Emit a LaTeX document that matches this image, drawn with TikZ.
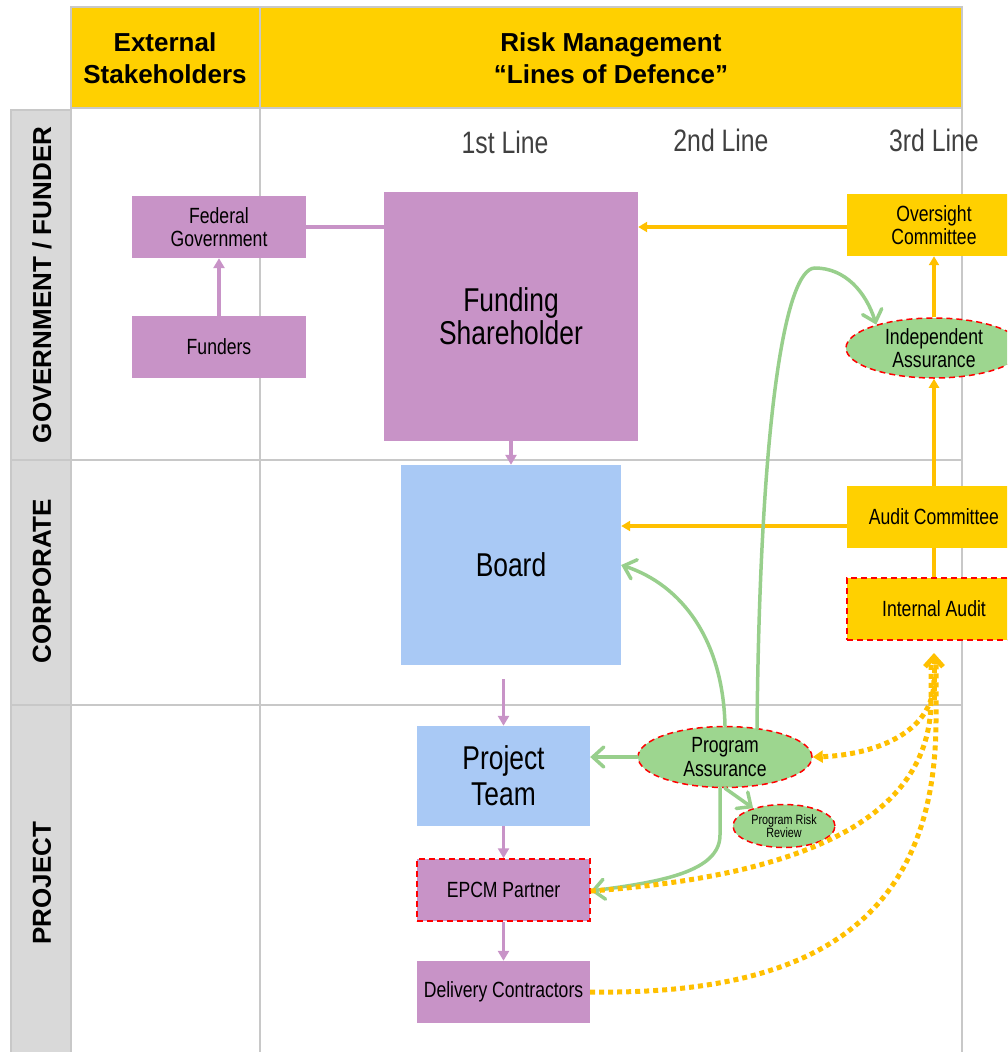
\documentclass[tikz,border=0pt]{standalone}
\usepackage{fontspec}
\setmainfont{Liberation Sans}
\newfontfamily\narrowfont{Liberation Sans}[FakeStretch=0.8]
\usetikzlibrary{arrows.meta,shapes.geometric}
\definecolor{hdryellow}{HTML}{FFD000}
\definecolor{arryellow}{HTML}{FFC000}
\definecolor{purp}{HTML}{C893C7}
\definecolor{bluebox}{HTML}{A9C9F5}
\definecolor{greenfill}{HTML}{9DD68F}
\definecolor{greenline}{HTML}{98CF8C}
\definecolor{gridgrey}{HTML}{C8C8C8}
\definecolor{colgrey}{HTML}{D9D9D9}
\definecolor{labelgrey}{HTML}{404040}
\begin{document}
\begin{tikzpicture}[x=1pt,y=-1pt,
  box/.style={rectangle, inner sep=0pt, align=center, text=black, font=\narrowfont\fontsize{22}{23.5}\selectfont},
  purpbox/.style={box, fill=purp},
  bluebx/.style={box, fill=bluebox},
  yelbox/.style={box, fill=hdryellow},
  reddash/.style={draw=red, line width=1.5pt, dash pattern=on 6pt off 4pt},
  greenell/.style={ellipse, inner sep=0pt, fill=greenfill, reddash, align=center, text=black, font=\narrowfont\fontsize{22}{23.5}\selectfont},
  gridline/.style={draw=gridgrey, line width=2.5pt},
  purparr/.style={draw=purp, line width=3.5pt, -{Triangle[length=10pt,width=11pt]}},
  purpline/.style={draw=purp, line width=3.5pt},
  yelarr/.style={draw=arryellow, line width=3.5pt, -{Triangle[length=9pt,width=10pt]}},
  yelline/.style={draw=arryellow, line width=3.5pt},
  greenarr/.style={draw=greenline, line width=3.5pt, line cap=round, -{Straight Barb[length=11pt,width=20pt,line cap=round]}},
  dotyel/.style={draw=arryellow, line width=5pt, dash pattern=on 5pt off 4pt},
  hdrtext/.style={align=center, font=\bfseries\fontsize{26}{32}\selectfont},
  rowlabel/.style={rotate=90, font=\bfseries\fontsize{26}{28}\selectfont},
  linelabel/.style={text=labelgrey, font=\narrowfont\fontsize{31}{33}\selectfont}
]
\useasboundingbox (0,0) rectangle (1007,1052);
\clip (0,0) rectangle (1007,1052);
% header
\fill[hdryellow] (71,7) rectangle (962,108);
\draw[gridline] (71,7) rectangle (962,108);
% left column
\fill[colgrey] (11,110) rectangle (71,1060);
\draw[gridline] (11,1060) -- (11,110) -- (71,110) -- (71,1060);
% grid
\draw[gridline] (260,7) -- (260,1060);
\draw[gridline] (962,7) -- (962,1060);
\draw[gridline] (11,460) -- (962,460);
\draw[gridline] (11,705) -- (962,705);
% header texts
\node[hdrtext] (hext) at (165,58) {External\\Stakeholders};
\node[hdrtext] (hrisk) at (611,58) {Risk Management\\“Lines of Defence”};
% row labels
\node[rowlabel] (rgov) at (42,285) {GOVERNMENT / FUNDER};
\node[rowlabel] (rcorp) at (42,581) {CORPORATE};
\node[rowlabel] (rproj) at (42,883) {PROJECT};
% line labels
\node[linelabel] (l1) at (505,142) {1st Line};
\node[linelabel] (l2) at (721,140) {2nd Line};
\node[linelabel] (l3) at (934,140) {3rd Line};
% nodes
\node[purpbox, minimum width=174pt, minimum height=62pt] (fedgov) at (219,227) {Federal\\Government};
\node[purpbox, minimum width=174pt, minimum height=62pt] (funders) at (219,347) {Funders};
\node[purpbox, minimum width=254pt, minimum height=249pt, font=\narrowfont\fontsize{33}{33}\selectfont] (fs) at (511,316.5) {Funding\\Shareholder};
\node[bluebx, minimum width=220pt, minimum height=200pt, font=\narrowfont\fontsize{33}{33}\selectfont] (board) at (511,565) {Board};
\node[bluebx, minimum width=173pt, minimum height=100pt, font=\narrowfont\fontsize{33}{36}\selectfont] (pt) at (503.5,776) {Project\\Team};
\node[purpbox, reddash, minimum width=173pt, minimum height=62pt] (epcm) at (503.5,890) {EPCM Partner};
\node[purpbox, minimum width=173pt, minimum height=62pt] (dc) at (503.5,992) {Delivery Contractors};
\node[yelbox, minimum width=174pt, minimum height=62pt] (oc) at (934,225) {Oversight\\Committee};
\node[yelbox, minimum width=174pt, minimum height=62pt] (ac) at (934,517) {Audit Committee};
\node[yelbox, reddash, minimum width=174pt, minimum height=62pt] (ia) at (934,609) {Internal Audit};
\node[greenell, minimum width=176pt, minimum height=60pt] (indep) at (934,348) {Independent\\Assurance};
\node[greenell, minimum width=174pt, minimum height=61pt] (pa) at (725,757) {Program\\Assurance};
\node[greenell, minimum width=102pt, minimum height=43pt, font=\narrowfont\fontsize{13.5}{13.5}\selectfont] (prr) at (784,826) {Program Risk\\Review};
% purple connectors
\draw[purparr] (funders.north) -- (fedgov.south);
\draw[purpline] (fedgov.east) -- (fedgov.east -| fs.west);
\draw[purparr] (fs.south) -- (board.north);
\draw[purparr] ([yshift=-14pt]board.south -| pt.north) -- (pt.north);
\draw[purparr] (pt.south) -- (epcm.north);
\draw[purparr] (epcm.south) -- (dc.north);
% yellow connectors
\draw[yelarr] ([yshift=-2pt]oc.west) -- ([yshift=-2pt]oc.west -| fs.east);
\draw[yelarr] (indep.north) -- (oc.south);
\draw[yelarr] (ac.north) -- (indep.south);
\draw[yelarr] ([yshift=-9pt]ac.west) -- ([yshift=-9pt]ac.west -| board.east);
\draw[yelline] (ia.north) -- (ac.south);
% green connectors
\coordinate (pastart) at (757,729);
\draw[greenarr] (pa.west) -- (pa.west -| pt.east);
\draw[greenarr] (pa.south) -- (prr.150);
\draw[greenarr] (pa.north) .. controls (723,640) and (682,585) .. (board.east);
\draw[greenarr] (pastart) .. controls (760,420) and (785,268) .. (815,268) .. controls (845,268) and (866,292) .. (indep.158);
\draw[greenarr] ([xshift=-5pt]pa.south) -- ([xshift=-5pt]pa.south |- 0,835) .. controls (720,872) and (660,882) .. ([yshift=-1pt]epcm.east);
% yellow dotted connectors
\coordinate (iatip) at (934,653);
\draw[dotyel] ([yshift=-1pt]epcm.east) .. controls (800,876) and (931,820) .. (931,700) -- (931,660);
\draw[dotyel] (dc.east) .. controls (800,995) and (936,930) .. (936,720) -- (936,660);
\draw[dotyel, -{Straight Barb[length=10pt,width=18pt]}] (934,700) -- (iatip);
\draw[dotyel, -{Triangle[length=10pt,width=12pt]}] (934,680) .. controls (934,735) and (870,755) .. (pa.east);
\end{tikzpicture}
\end{document}
